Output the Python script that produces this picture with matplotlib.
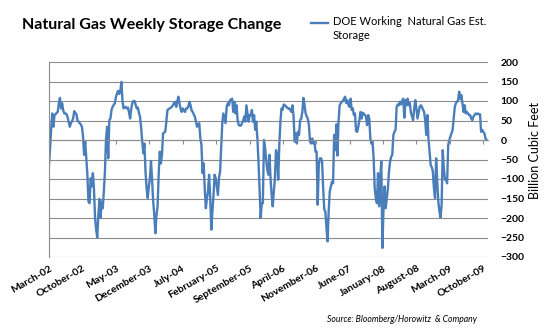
import numpy as np
import pandas as pd
import matplotlib
matplotlib.use("Agg")
import matplotlib.pyplot as plt
from matplotlib.lines import Line2D

plt.rcParams["font.family"] = ["Lato", "DejaVu Sans"]

# weekly storage change in Bcf, one list per storage year (March to February)
season_2002 = [-64, -20, 30, 68, 34, 64, 66, 70, 72, 95,
               108, 81, 94, 75, 68, 68, 66, 58, 45, 34,
               43, 48, 55, 74, 70, 66, 50, 47, 43, 40,
               34, 10, -38, -4, -47, -89, -158, -162, -98, -119,
               -85, -124, -200, -230, -250, -192, -151, -200, -158, -175,
               -132, -81]
season_2003 = [4, 34, -47, 51, 55, 77, 85, 90, 94, 110,
               119, 126, 118, 125, 149, 100, 81, 84, 85, 81,
               83, 70, 55, 81, 95, 100, 100, 90, 81, 83,
               70, 60, 32, -4, -34, -9, -81, -124, -149, -120,
               -98, -54, -102, -158, -192, -239, -192, -170, -89, -30,
               -60, -38]
season_2004 = [17, 19, 21, 47, 77, 79, 81, 83, 85, 89,
               95, 98, 85, 100, 111, 94, 80, 72, 81, 76,
               72, 81, 81, 85, 98, 90, 76, 72, 66, 60,
               47, 34, 40, 43, 4, -13, -85, -60, -124, -175,
               -150, -132, -89, -149, -230, -183, -141, -89, -98, -119,
               -141, -98]
season_2005 = [-81, -21, 43, 68, 55, 43, 85, 94, 89, 102,
               104, 106, 72, 98, 68, 89, 51, 38, 37, 37,
               43, 50, 60, 47, 89, 68, 47, 64, 64, 77,
               47, 64, 26, 47, 4, -55, -124, -200, -162, -162,
               0, -20, -50, -75, -89, -38, -98, -141, -170, -132,
               -98, -26]
season_2006 = [-38, -102, -13, 47, 81, 77, 91, 89, 87, 83,
               81, 81, 77, 72, 89, 60, -4, 17, -9, 21,
               13, 51, 55, 72, 108, 89, 68, 60, 55, 38,
               -4, -9, 4, -9, -4, -30, -30, -166, -64, -47,
               -47, -55, -124, -179, -183, -226, -260, -183, -132, -119,
               -107, -111]
season_2007 = [13, -26, 40, -40, 47, 89, 94, 98, 100, 106,
               111, 95, 102, 90, 85, 106, 77, 81, 64, 68,
               23, 21, 34, 51, 72, 55, 70, 68, 64, 60,
               38, 64, 55, 4, -9, -4, -47, -124, -149, -162,
               -85, -170, -98, -55, -277, -175, -119, -175, -149, -124,
               -81, -55]
season_2008 = [-43, -38, 13, 21, 26, 85, 91, 89, 98, 91,
               100, 106, 57, 102, 89, 106, 89, 95, 70, 60,
               51, 81, 102, 81, 55, 70, 85, 89, 85, 78,
               72, 51, 13, 64, 4, -30, -64, -70, -81, -124,
               -149, -47, -107, -158, -183, -199, -166, -26, -72, -102,
               -98, -111]
season_2009 = [-13, 0, 9, 17, 26, 55, 85, 94, 98, 102,
               124, 106, 115, 94, 72, 89, 68, 72, 68, 64,
               64, 55, 51, 60, 64, 68, 66, 68, 66, 66,
               21, 26, 21, 17, 4, 0]

first_week = "2002-03-01"
x_start, x_end = "2002-03-01", "2009-11-01"
y_ticks = [-300, -250, -200, -150, -100, -50, 0, 50, 100, 150, 200]

storage = np.concatenate([season_2002, season_2003, season_2004, season_2005,
                          season_2006, season_2007, season_2008, season_2009])
weeks = pd.date_range(first_week, periods=len(storage), freq="7D")
ticks = pd.date_range(x_start, x_end, freq="7MS")

blue = "#4a7ebb"
grey = "#8c8c8c"

fig = plt.figure(figsize=(5.51, 3.34), dpi=100)
ax = fig.add_axes([49 / 551, 77 / 334, 439 / 551, 195 / 334])

ax.plot(weeks, storage, color=blue, lw=1.7)

ax.set_xlim(pd.Timestamp(x_start), pd.Timestamp(x_end))
ax.set_ylim(y_ticks[0], y_ticks[-1])
ax.set_yticks(y_ticks)
ax.grid(axis="y", color=grey, lw=0.8)
ax.set_axisbelow(True)

for side in ["top", "right"]:
    ax.spines[side].set_visible(False)
ax.spines["left"].set_color(grey)
ax.spines["bottom"].set_position(("data", 0))
ax.spines["bottom"].set_color(grey)
ax.spines["bottom"].set_linewidth(0.8)

# category ticks sit on the zero line, labels go below the plot
ax.set_xticks(ticks)
ax.tick_params(axis="x", length=3, color=grey, labelbottom=False)
for t in ticks:
    ax.text(t, -0.035, t.strftime("%B-%y"), transform=ax.get_xaxis_transform(),
            rotation=30, rotation_mode="anchor", ha="right", va="top",
            fontsize=7.5, fontweight="bold")

ax.yaxis.tick_right()
ax.tick_params(axis="y", length=0, pad=9, labelsize=7.5)
for lbl in ax.get_yticklabels():
    lbl.set_fontweight("bold")
ax.yaxis.set_label_position("right")
ax.set_ylabel("Billion Cubic Feet", fontsize=9)
ax.yaxis.set_label_coords(1.093, 0.544)

fig.text(22 / 551, 1 - 25 / 334, "Natural Gas Weekly Storage Change",
         fontsize=11.5, fontweight="bold", va="center")

fig.add_artist(Line2D([311 / 551, 328 / 551], [1 - 23 / 334] * 2,
                      transform=fig.transFigure, color=blue, lw=1.7))
fig.text(333 / 551, 1 - 16 / 334, "DOE Working  Natural Gas Est.\nStorage",
         fontsize=8, va="top", linespacing=1.35)

fig.text(327 / 551, 1 - 320 / 334, "Source: Bloomberg/Horowitz  & Company",
         fontsize=6.2, style="italic", va="center")

fig.savefig("out.png", dpi=100)
